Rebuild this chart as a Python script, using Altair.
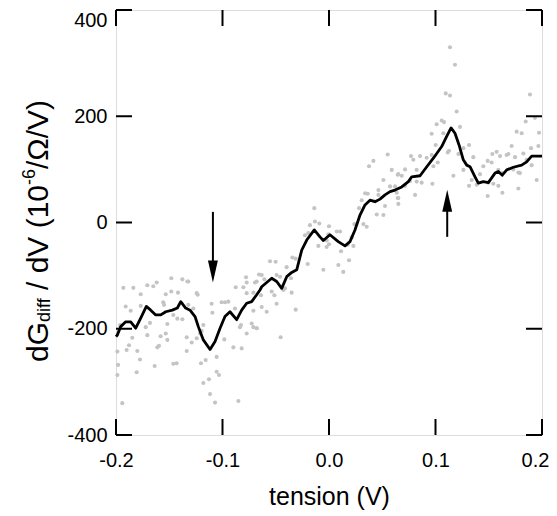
import altair as alt
import pandas as pd

# ---- data ----
line_x = [-0.2, -0.1988, -0.1956, -0.1909, -0.1862, -0.1815, -0.1768, -0.1715, -0.1674, -0.1627,
          -0.1580, -0.1533, -0.1471, -0.1424, -0.1392, -0.1346, -0.1305, -0.1258, -0.1227, -0.1180,
          -0.1117, -0.1070, -0.1023, -0.0977, -0.0930, -0.0867, -0.0820, -0.0773, -0.0726, -0.0679,
          -0.0648, -0.0632, -0.0585, -0.0538, -0.0491, -0.0444, -0.0397, -0.0350, -0.0303, -0.0256,
          -0.0209, -0.0138, -0.0085, -0.0053, 0.0009, 0.0087, 0.0150, 0.0197, 0.0244, 0.0291,
          0.0338, 0.0385, 0.0432, 0.0479, 0.0526, 0.0573, 0.0620, 0.0683, 0.0745, 0.0777,
          0.0855, 0.0918, 0.0980, 0.1058, 0.1105, 0.1146, 0.1183, 0.1221, 0.1261, 0.1293,
          0.1324, 0.1371, 0.1402, 0.1449, 0.1496, 0.1559, 0.1590, 0.1627, 0.1669, 0.1731,
          0.1809, 0.1856, 0.1903, 0.1950, 0.2]
line_y = [-215, -212, -196, -187, -187, -199, -180, -158, -165, -174,
          -174, -168, -165, -161, -149, -161, -165, -177, -196, -221,
          -239, -224, -199, -177, -168, -183, -165, -152, -149, -136,
          -127, -121, -113, -105, -111, -124, -102, -94, -89, -52,
          -33, -14, -27, -34, -23, -36, -44, -36, -14, 14,
          33, 42, 39, 44, 52, 58, 61, 67, 77, 86,
          88, 105, 121, 143, 162, 178, 168, 146, 118, 108,
          105, 86, 74, 77, 75, 93, 96, 89, 99, 104,
          108, 114, 125, 125, 125]

pts_x = [-0.1931, -0.1837, -0.1706, -0.1650, -0.1618, -0.1481, -0.1377, -0.1330, -0.1768, -0.1533,
         -0.1481, -0.1418, -0.1909, -0.1862, -0.1768, -0.1556, -0.1549, -0.1462, -0.1424, -0.1377,
         -0.1962, -0.1681, -0.1518, -0.1721, -0.1847, -0.1706, -0.1581, -0.1533, -0.1518, -0.1336,
         -0.1878, -0.1900, -0.1800, -0.1596, -0.1612, -0.1987, -0.1336, -0.1775, -0.1981, -0.1637,
         -0.1462, -0.1431, -0.1987, -0.1806, -0.1941,
         -0.1321, -0.1242, -0.1233, -0.1321, -0.1274, -0.1102, -0.1095, -0.1008, -0.0976, -0.0945,
         -0.0876, -0.0804, -0.0779, -0.0773, -0.0695, -0.0773, -0.0710, -0.0657, -0.0883, -0.0710,
         -0.1180, -0.1196, -0.1211, -0.1242, -0.1289, -0.0983, -0.0898, -0.0820, -0.0836, -0.0826,
         -0.0726, -0.0710, -0.0679, -0.0773, -0.1055, -0.1158, -0.1202, -0.1055, -0.1033, -0.1127,
         -0.1180, -0.1117, -0.1070, -0.0851,
         -0.0138, -0.0179, -0.0132, -0.0091, 0.0000, -0.0226, -0.0194, -0.0100, -0.0022, 0.0000,
         -0.0200, -0.0053, -0.0554, -0.0501, -0.0344, -0.0313, -0.0398, -0.0632, -0.0607, -0.0679,
         -0.0492, -0.0460, -0.0357, -0.0538, -0.0513, -0.0429, -0.0413, -0.0351, -0.0639, -0.0632,
         -0.0492, -0.0585, -0.0313, -0.0679, -0.0454,
         0.0551, 0.0376, 0.0417, 0.0589, 0.0645, 0.0511, 0.0464, 0.0573, 0.0339, 0.0364,
         0.0307, 0.0464, 0.0417, 0.0526, 0.0636, 0.0645, 0.0282, 0.0448, 0.0511, 0.0238,
         0.0323, 0.0354, 0.0073, 0.0104, -0.0006, -0.0021, 0.0213, 0.0176, 0.0229, 0.0113,
         0.0188, 0.0088, 0.0134,
         0.1136, 0.1183, 0.1096, 0.1136, 0.1199, 0.1011, 0.1058, 0.1080, 0.0964, 0.1230,
         0.1074, 0.1002, 0.0917, 0.0964, 0.0770, 0.0792, 0.0855, 0.1021, 0.1115, 0.1127,
         0.1262, 0.1315, 0.1215, 0.0714, 0.0651, 0.0683, 0.0980, 0.0823, 0.0761, 0.0823,
         0.0870, 0.0714, 0.0620, 0.0971, 0.1168, 0.1262, 0.0808, 0.0651, 0.0651, 0.1315,
         0.1887, 0.1847, 0.1934, 0.1762, 0.1809, 0.1972, 0.1715, 0.1966, 0.1897, 0.1574,
         0.1534, 0.1606, 0.1668, 0.1684, 0.1747, 0.1825, 0.1355, 0.1490, 0.1527, 0.1449,
         0.1856, 0.1903, 0.1731, 0.1590, 0.1628, 0.1778, 0.1793, 0.1418, 0.1340, 0.1496,
         0.1387, 0.1543, 0.1950, 0.1590, 0.1628, 0.1490, 0.1778]
pts_y = [-123, -123, -118, -120, -113, -105, -107, -111, -135, -135,
         -130, -132, -158, -166, -157, -150, -155, -174, -181, -182,
         -193, -189, -191, -197, -217, -212, -214, -209, -221, -216,
         -231, -240, -242, -232, -235, -243, -242, -258, -268, -270,
         -266, -265, -287, -282, -340,
         -111, -133, -136, -155, -162, -153, -170, -150, -150, -149,
         -122, -122, -103, -113, -113, -133, -132, -98, -162, -166,
         -193, -204, -209, -218, -226, -220, -235, -237, -197, -193,
         -190, -197, -199, -209, -253, -259, -265, -281, -287, -295,
         -302, -323, -339, -336,
         27, -5, 2, -2, -7, -24, -20, -44, -46, -41,
         -78, -89, -73, -74, -66, -68, -84, -99, -107, -111,
         -99, -102, -105, -130, -137, -127, -124, -132, -137, -159,
         -153, -168, -164, -199, -216,
         128, 106, 116, 99, 90, 80, 61, 68, 55, 54,
         42, 52, 41, 31, 56, 46, 27, 15, 14, -3,
         -3, -8, -17, -17, -22, -34, -28, -42, -44, -54,
         -71, -80, -93,
         330, 297, 243, 239, 209, 185, 192, 189, 167, 180,
         168, 146, 122, 127, 125, 118, 125, 113, 132, 135,
         140, 146, 129, 100, 91, 88, 106, 99, 78, 77,
         75, 69, 68, 73, 88, 99, 52, 46, 35, 69,
         241, 190, 197, 171, 168, 169, 144, 144, 140, 133,
         129, 125, 127, 129, 123, 130, 123, 116, 113, 106,
         118, 108, 100, 99, 93, 94, 93, 91, 80, 75,
         71, 73, 80, 69, 56, 50, 64]

x_ticks = [-0.2, -0.1, 0.0, 0.1, 0.2]
y_ticks = [-400, -200, 0, 200, 400]

# arrows: x, tail value, head-centre value
arrow_x = [-0.109, 0.111]
arrow_tail = [20, -27]
arrow_head = [-92, 41]
arrow_dir = ["down", "up"]

FONT = "Liberation Sans"
W, H = 426, 425

xs = alt.Scale(domain=[-0.2, 0.2], nice=False, zero=False)
ys = alt.Scale(domain=[-400, 400], nice=False, zero=False)
fix_minus = "replace(datum.label, '\u2212', '-')"
xaxis = alt.Axis(values=x_ticks, format=".1f", labelExpr=fix_minus, labelFlush=False,
                 labelOffset={"condition": {"test": "datum.value > 0.15", "value": -7}, "value": 0},
                 tickSize=0, domain=False, grid=False, labelFont=FONT, labelFontSize=20,
                 labelColor="black", labelPadding=15, title="tension (V)", titleFont=FONT,
                 titleFontSize=25, titleFontWeight="normal", titleColor="black", titlePadding=14)
yaxis = alt.Axis(values=y_ticks, format="d", labelExpr=fix_minus, labelFlush=False,
                 labelOffset={"condition": {"test": "datum.value == 400", "value": 10}, "value": 0},
                 tickSize=0, domain=False, grid=False, labelFont=FONT, labelFontSize=20,
                 labelColor="black", labelPadding=9, title=None)


def X(f="x"):
    return alt.X(f"{f}:Q", scale=xs, axis=xaxis, title="tension (V)")


def Y(f="y"):
    return alt.Y(f"{f}:Q", scale=ys, axis=yaxis, title=None)


pts_df = pd.DataFrame({"x": pts_x, "y": pts_y})
line_df = pd.DataFrame({"x": line_x, "y": line_y})

points = alt.Chart(pts_df).mark_circle(size=17, color="#c4c4c4", opacity=1).encode(x=X(), y=Y())
line = alt.Chart(line_df).mark_line(color="black", strokeWidth=2.8, strokeJoin="round").encode(x=X(), y=Y())

xt = pd.DataFrame({"x": x_ticks})
yt = pd.DataFrame({"y": y_ticks})
tick_kw = dict(color="black", strokeWidth=2)
ticks = [
    alt.Chart(xt).mark_rule(**tick_kw).encode(x=X(), y=alt.value(H), y2=alt.value(H - 16)),
    alt.Chart(xt).mark_rule(**tick_kw).encode(x=X(), y=alt.value(0), y2=alt.value(16)),
    alt.Chart(yt).mark_rule(**tick_kw).encode(y=Y(), x=alt.value(0), x2=alt.value(16)),
    alt.Chart(yt).mark_rule(**tick_kw).encode(y=Y(), x=alt.value(W), x2=alt.value(W - 16)),
]

arr_df = pd.DataFrame({"x": arrow_x, "y": arrow_tail, "head": arrow_head, "dir": arrow_dir})
shafts = alt.Chart(arr_df).mark_rule(color="black", strokeWidth=2).encode(
    x=X(), y=Y(), y2="head:Q")
head_df = pd.DataFrame({"x": arrow_x, "y": arrow_head, "dir": arrow_dir})
head_down = alt.Chart(head_df[head_df.dir == "down"]).mark_point(
    shape="M-0.45,-1L0.45,-1L0,1Z", size=484, filled=True, color="black", opacity=1,
    strokeWidth=0).encode(x=X(), y=Y())
head_up = alt.Chart(head_df[head_df.dir == "up"]).mark_point(
    shape="M-0.45,1L0.45,1L0,-1Z", size=484, filled=True, color="black", opacity=1,
    strokeWidth=0).encode(x=X(), y=Y())

# y-axis title with subscript / superscript (rotated text pieces)
one = pd.DataFrame({"a": [0]})


def piece(txt, size, x, y):
    return alt.Chart(one).mark_text(text=txt, angle=270, align="left", baseline="alphabetic",
                                    font=FONT, fontSize=size, color="black").encode(
        x=alt.value(x), y=alt.value(y))


MAIN, SMALL = 30, 18
ytitle = [
    piece("dG", MAIN, -68, 352),
    piece("diff", SMALL, -66, 312),
    piece("/ dV (10", MAIN, -68, 280),
    piece("-6", SMALL, -81, 175),
    piece("/\u03a9/V)", MAIN, -68, 159),
]

chart = alt.layer(points, line, *ticks, shafts, head_down, head_up, *ytitle).properties(
    width=W, height=H,
    autosize=alt.AutoSizeParams(type="none"),
    padding={"left": 108, "top": 2, "right": 7, "bottom": 80},
).configure_view(stroke="black", strokeWidth=2).configure(background="white")

chart.save("out.html", embed_options={"renderer": "svg", "actions": False})
